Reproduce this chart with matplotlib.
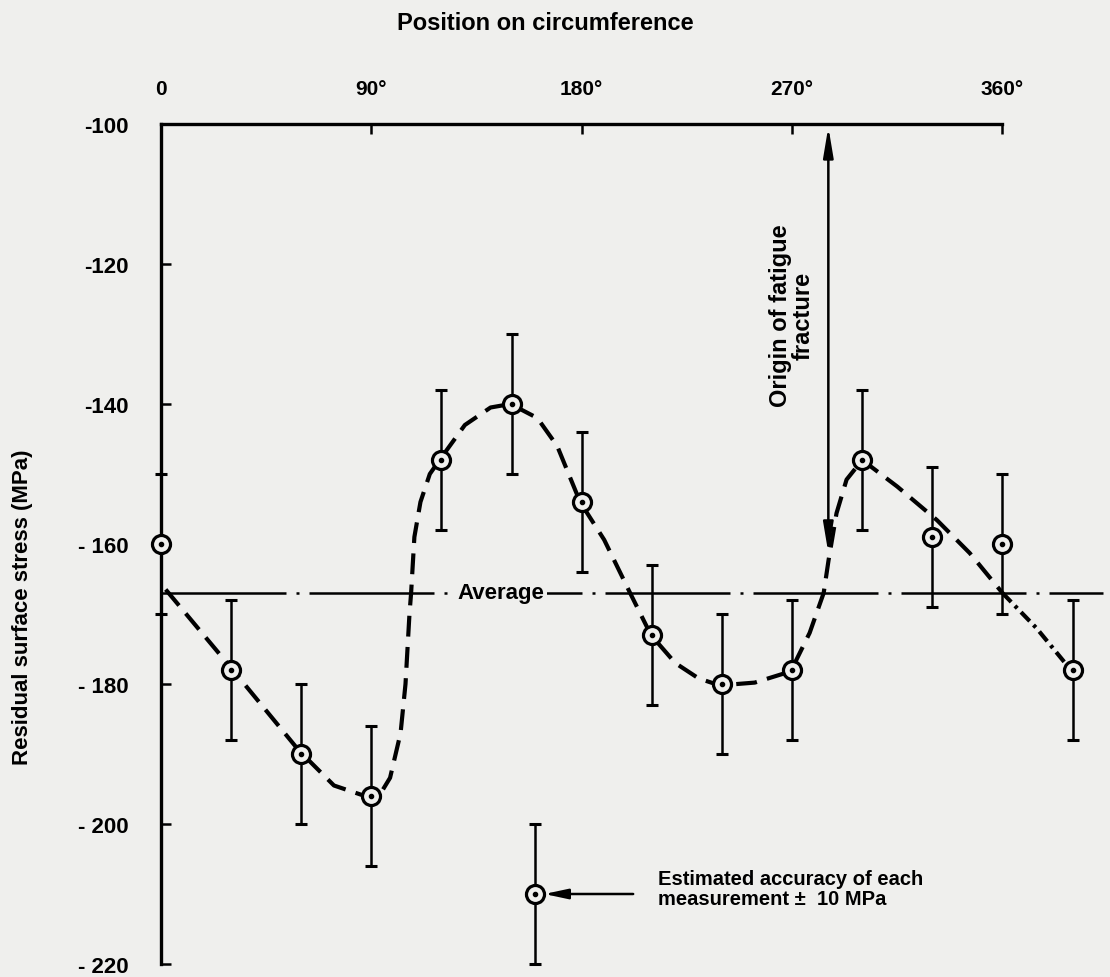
import matplotlib
matplotlib.use("Agg")
import matplotlib.pyplot as plt

plt.rcParams['font.family'] = ['Liberation Sans', 'DejaVu Sans']
plt.rcParams['font.weight'] = 'bold'

# measured points (every 30 deg, last one repeats the 30 deg position)
angles = [0, 30, 60, 90, 120, 150, 180, 210, 240, 270, 300, 330, 360, 390]
stress = [-160, -178, -190, -196, -148, -140, -154, -173, -180, -178, -148, -159, -160, -178]
accuracy = 10

# hand-drawn fitted curve
curve_deg = [2, 29, 59, 74, 89, 94, 98, 102.5, 104.6, 106.3, 107, 108.4, 111, 115, 119.6,
             130, 141, 149.5, 161, 169.5, 179.3, 189.6, 200.7, 209.6, 220, 230, 239, 254,
             269.4, 277.5, 283.5, 285.6, 289, 293.3, 300, 315, 332, 346, 360]
curve_val = [-166.5, -177.3, -189.5, -194.5, -196.2, -195.6, -193.4, -187, -180, -170, -167,
             -159, -154, -150, -147.8, -143, -140.5, -140, -142, -146, -154, -159.4, -167,
             -173, -177, -179.2, -180.2, -179.8, -178.2, -172.7, -167, -162.3, -155.6,
             -150.8, -148, -151.8, -156.6, -161.3, -167]
extrap_deg = [360, 374.5, 390]
extrap_val = [-167, -172, -178.3]

average = -167
fracture_deg = 285.5
fracture_tip = -161.3
legend_deg, legend_val = 160, -210

xticks = [0, 90, 180, 270, 360]
xticklabels = ['0', '90°', '180°', '270°', '360°']
yticks = [-220, -200, -180, -160, -140, -120, -100]
yticklabels = ['- 220', '- 200', '- 180', '- 160', '-140', '-120', '-100']

bg = '#efefed'
W, H = 1110, 978
fig = plt.figure(figsize=(W / 100, H / 100), dpi=100, facecolor=bg)
ax = fig.add_axes([161 / W, 1 - 965 / H, (W - 161) / W, (965 - 125) / H])
ax.set_facecolor(bg)
ax.set_xlim(0, 406)
ax.set_ylim(-220, -100)

# average line
ax.plot([0, 403], [average, average], color='black', lw=1.8,
        linestyle=(0, (50, 4, 1.2, 4)), zorder=1)
ax.text(145.5, average, 'Average', ha='center', va='center', fontsize=16,
        bbox=dict(facecolor=bg, edgecolor='none', pad=2), zorder=2)

# fitted curve
ax.plot(curve_deg, curve_val, color='black', lw=3, dashes=(5, 2.5), zorder=3)
ax.plot(extrap_deg, extrap_val, color='black', lw=3, dashes=(3, 1.3, 0.8, 1.3), zorder=3)

# points with error bars
ax.errorbar(angles, stress, yerr=accuracy, fmt='none', ecolor='black', elinewidth=1.8,
            capsize=4.5, capthick=2.2, clip_on=False, zorder=4)
ax.plot(angles, stress, 'o', ms=13, mfc=bg, mec='black', mew=2.3, clip_on=False, zorder=5)
ax.plot(angles, stress, 'o', ms=3, color='black', clip_on=False, zorder=6)

# legend marker
ax.errorbar([legend_deg], [legend_val], yerr=accuracy, fmt='none', ecolor='black',
            elinewidth=1.8, capsize=4.5, capthick=2.2, clip_on=False, zorder=4)
ax.plot([legend_deg], [legend_val], 'o', ms=13, mfc=bg, mec='black', mew=2.3,
        clip_on=False, zorder=5)
ax.plot([legend_deg], [legend_val], 'o', ms=3, color='black', clip_on=False, zorder=6)
ax.annotate('', xy=(164, legend_val), xytext=(202, legend_val),
            arrowprops=dict(arrowstyle='-|>,head_length=1.4,head_width=0.3', lw=1.8,
                            color='black', shrinkA=0, shrinkB=0, mutation_scale=10))
ax.text(212.8, legend_val + 0.8, 'Estimated accuracy of each\nmeasurement ±  10 MPa',
        ha='left', va='center', fontsize=14.5, linespacing=1.1)

# fracture origin
ax.annotate('', xy=(fracture_deg, -100.4), xytext=(fracture_deg, fracture_tip),
            arrowprops=dict(arrowstyle='<|-|>,head_length=1.8,head_width=0.3', lw=1.8,
                            color='black', shrinkA=0, shrinkB=0, mutation_scale=10))
ax.text(270, -127.3, 'Origin of fatigue\nfracture', rotation=90, ha='center',
        va='center', fontsize=17, linespacing=1.0)

# axes styling
ax.xaxis.tick_top()
ax.set_xticks(xticks, xticklabels)
ax.set_yticks(yticks, yticklabels)
ax.tick_params(axis='x', direction='in', length=7, width=1.8, pad=19, labelsize=15)
ax.tick_params(axis='y', direction='in', length=7, width=1.8, pad=23, labelsize=16)
ax.spines['right'].set_visible(False)
ax.spines['bottom'].set_visible(False)
ax.spines['top'].set_bounds(0, 360)
ax.spines['top'].set_linewidth(2.4)
ax.spines['left'].set_linewidth(2.4)

fig.text(545 / W, 1 - 24 / H, 'Position on circumference', ha='center', va='center',
         fontsize=17)
fig.text(23 / W, 1 - 607 / H, 'Residual surface stress (MPa)', rotation=90,
         ha='center', va='center', fontsize=16)

fig.savefig('out.png', dpi=100, facecolor=bg)
